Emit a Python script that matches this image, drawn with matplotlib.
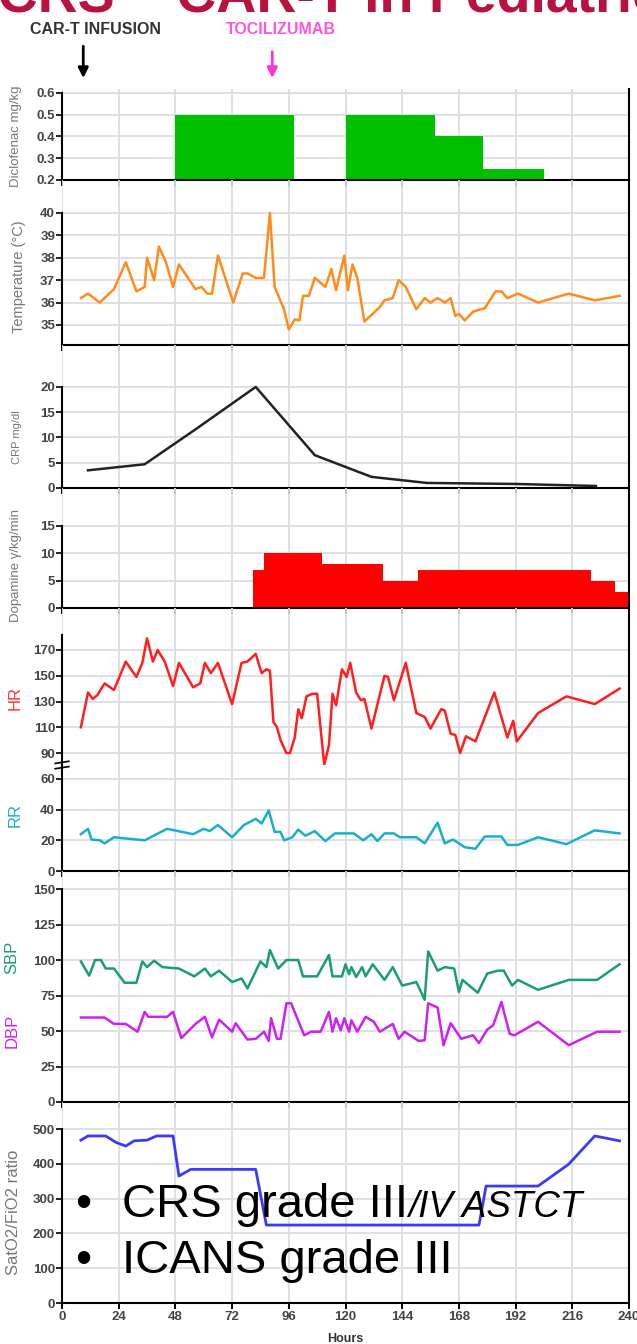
import numpy as np
import matplotlib.pyplot as plt

plt.rcParams['font.family'] = ['Liberation Sans', 'DejaVu Sans']

# events (hours)
car_t_hour = 9
toci_hour = 89

# diclofenac infusion steps
dic_start = [48, 120, 158, 178]
dic_end = [98, 158, 178, 204]
dic_dose = [0.5, 0.5, 0.4, 0.25]

# temperature
temp_h = [8, 11, 16, 22, 27, 31.5, 35, 36, 39, 41, 44, 47, 49.5, 56.5, 59, 61.5, 63.5, 66, 72.5, 76.5,
          78.5, 82, 85.5, 88, 90, 94, 96, 98.5, 100.5, 102, 104.5, 107, 111.5, 114, 116, 119.5, 121, 123, 125, 128,
          131, 134.5, 136.5, 140, 142.5, 145.5, 150, 153.5, 156, 159, 162, 164.5, 166.5, 168, 170.5, 174, 179, 183.5,
          186, 188.5, 193, 201.5, 214.5, 225.5, 236]
temp_c = [36.2, 36.4, 36.0, 36.6, 37.8, 36.5, 36.7, 38.0, 37.0, 38.5, 37.8, 36.7, 37.7, 36.6, 36.7, 36.4, 36.4, 38.1, 36.0, 37.3,
          37.3, 37.1, 37.1, 40.0, 36.7, 35.7, 34.8, 35.25, 35.2, 36.3, 36.3, 37.1, 36.7, 37.5, 36.55, 38.1, 36.55, 37.7, 37.1, 35.15,
          35.45, 35.8, 36.1, 36.2, 37.0, 36.7, 35.7, 36.2, 36.0, 36.2, 36.0, 36.2, 35.4, 35.5, 35.2, 35.6, 35.75, 36.5,
          36.5, 36.2, 36.4, 36.0, 36.4, 36.1, 36.3]

# CRP
crp_h = [11, 35, 56.5, 82, 107, 131, 154.5, 192, 226]
crp_val = [3.5, 4.7, 11.6, 20, 6.5, 2.2, 1.0, 0.8, 0.4]

# dopamine steps
dop_start = [81, 85.5, 110, 136, 150.5, 224, 234]
dop_end = [85.5, 110, 136, 150.5, 224, 234, 240]
dop_dose = [7, 10, 8, 5, 7, 5, 3]

# heart rate
hr_h = [8, 11, 13, 15, 18, 22, 27, 31.5, 34, 36, 38.5, 40.5, 43.5, 47, 49.5, 55.5, 58.5, 60.5, 63, 66,
        72, 76, 78.5, 82, 84.5, 86.5, 88, 89.5, 91, 92.5, 95, 96.5, 98.5, 100, 101.5, 103.5, 106, 108, 111, 113,
        114.5, 116, 118.5, 120.5, 122, 124.5, 126.5, 128, 131, 136.5, 138, 140.5, 145.5, 150, 153.5, 156, 160.5, 162,
        164.5, 166.5, 168.5, 171, 175, 183, 188.5, 191, 192.5, 201.5, 213.5, 225.5, 236]
hr_val = [110, 137, 132, 135, 144, 139, 161, 149, 160, 179, 161, 170, 161, 142, 160, 141, 144, 160, 152, 160,
          128, 160, 161, 167, 152, 155, 154, 114, 110, 100, 90, 90, 102, 124, 117, 134, 136, 136, 81, 96,
          136, 127, 155, 149, 160, 137, 131, 132, 109, 150, 149, 131, 160, 121, 118, 109, 124, 123,
          105, 104, 90, 103, 99, 137, 102, 115, 99, 121, 134, 128, 140]

# respiratory rate
rr_h = [8, 11, 12.5, 16, 18, 22, 35, 44.5, 55.5, 60, 62.5, 66, 72, 77, 82, 84.5, 87.5, 90, 92.5, 94,
        97.5, 100, 103, 107, 111.5, 115.5, 123.5, 127.5, 131, 133.5, 136.5, 140.5, 143, 150, 153.5, 159, 162,
        165.5, 170.5, 175, 179, 186, 188.5, 193, 201.5, 213.5, 225.5, 236]
rr_val = [24, 27.5, 20.5, 20, 18, 22, 20, 27.5, 24, 27.5, 26, 30, 22, 30, 34, 31, 39.5, 25.5, 25.5, 20,
          22, 27, 23, 26, 19.5, 24.5, 24.5, 20, 24, 19.5, 24.5, 24.5, 22, 22, 18, 31.5, 18,
          20.5, 15.5, 14.5, 22.5, 22.5, 17, 17, 22, 17.5, 26.5, 24.5]

# blood pressure
sbp_h = [8, 11.5, 14, 16.5, 18.5, 22, 26.5, 31.5, 34, 36, 39, 42.5, 49.5, 56, 60.5, 63, 66.5, 72, 76, 78.5,
         84, 86.5, 88, 91.5, 95, 100, 102, 108, 113, 114.5, 118.5, 120, 121.5, 122.5, 124.5, 127, 128.5, 131.5,
         136.5, 140, 144, 150, 153.5, 155, 159, 162, 166, 168, 169.5, 176, 180, 184.5, 187, 190.5, 193, 201.5,
         214.5, 226.5, 236]
sbp_val = [99, 89, 100, 100, 94, 94, 84, 84, 99, 95, 99.5, 95, 94, 88.5, 94, 88.5, 92.5, 84.5, 87, 80,
           99, 95, 107, 94, 100, 100, 88.5, 88.5, 103.5, 88.5, 88.5, 97, 90, 95, 88, 95, 88.5, 97,
           86, 95, 82, 84.5, 72, 106, 92.5, 95, 94, 77.5, 86, 77, 90.5, 92.5, 92.5, 82, 86, 79,
           86, 86, 97]
dbp_h = [8, 18, 22, 27, 32, 35, 36.5, 44.5, 47, 50.5, 56.5, 60.5, 63.5, 66.5, 72, 73.5, 78.5, 82, 85.5, 87.5,
         88.5, 91, 92.5, 95, 97, 102.5, 105.5, 109.5, 113, 114.5, 116, 118, 119.5, 121.5, 122.5, 125, 128.5, 132,
         134.5, 140, 142.5, 145, 151, 153.5, 155, 159, 161.5, 164.5, 169, 174, 176.5, 180, 182.5, 186, 189.5,
         191.5, 201.5, 214.5, 226.5, 236]
dbp_val = [59.5, 59.5, 55, 55, 49.5, 63.5, 60, 60, 63.5, 45, 55, 60, 45.5, 58, 49.5, 55.5, 44, 44.5, 49.5, 43,
           59, 44.5, 44.5, 69.5, 69.5, 47, 49.5, 49.5, 63.5, 49.5, 59, 50.5, 59, 49.5, 57.5, 49.5, 60, 56.5,
           49.5, 55, 44.5, 49.5, 43, 43.5, 69.5, 66.5, 40, 55.5, 44.5, 47, 41.5, 51, 54, 70.5, 48,
           47, 56.5, 40, 49.5, 49.5]

# SatO2/FiO2
sat_h = [8, 11, 18.5, 23, 27, 30.5, 36, 40, 47, 49.5, 54.5, 82, 86.5, 176.5, 179.5, 201.5, 214.5, 225.5, 236]
sat_val = [468, 480, 480, 461, 451, 466, 468, 480, 480, 365, 384, 384, 224, 224, 336, 336, 399, 480, 466]

hours_ticks = np.arange(0, 241, 24)

W, H = 637, 1344
fig = plt.figure(figsize=(W / 100, H / 100), dpi=100)
X0, X1 = 62, 629
grid_c = '#dcdce4'
tick_c = '#444444'


def panel(top, bottom, ylim, yticks, spine_lo=None, spine_hi=None):
    ax = fig.add_axes([X0 / W, 1 - bottom / H, (X1 - X0) / W, (bottom - top) / H])
    ax.set_xlim(0, 240)
    ax.set_ylim(*ylim)
    ax.set_xticks(hours_ticks)
    ax.set_yticks(yticks)
    ax.tick_params(axis='x', direction='out', length=4, width=1.4, labelbottom=False)
    ax.tick_params(axis='y', direction='out', length=4, width=1.2, labelsize=9.5,
                   labelcolor=tick_c, pad=1)
    plt.setp(ax.get_yticklabels(), fontweight='bold')
    ax.spines['top'].set_visible(False)
    for s in ['left', 'bottom', 'right']:
        ax.spines[s].set_linewidth(1.5)
    ax.spines['left'].set_bounds(spine_lo if spine_lo is not None else ylim[0],
                                 spine_hi if spine_hi is not None else ylim[1])
    ax.grid(True, color=grid_c, lw=1.3)
    ax.set_axisbelow(True)
    ax.patch.set_alpha(0)
    return ax


def ylab(x, y, s, color='#777777', size=8):
    fig.text(x / W, 1 - y / H, s, rotation=90, ha='center', va='center', color=color, fontsize=size)


# diclofenac
ax1 = panel(89, 180, (0.2, 0.618), [0.2, 0.3, 0.4, 0.5, 0.6], spine_hi=0.6)
ax1.set_yticklabels(['0.2', '0.3', '0.4', '0.5', '0.6'], fontweight='bold')
ax1.bar(dic_start, np.array(dic_dose) - 0.2, width=np.array(dic_end) - np.array(dic_start),
        bottom=0.2, align='edge', color='#00C000', lw=0)
ylab(16, 136, 'Diclofenac mg/kg', size=9.5)

ax1.annotate('', xy=(car_t_hour, 1.12), xytext=(car_t_hour, 1.47), xycoords=('data', 'axes fraction'),
             arrowprops=dict(arrowstyle='-|>', color='black', lw=2, mutation_scale=15,
                             shrinkA=0, shrinkB=0))
ax1.annotate('', xy=(toci_hour, 1.12), xytext=(toci_hour, 1.41), xycoords=('data', 'axes fraction'),
             arrowprops=dict(arrowstyle='-|>', color='#FF33D6', lw=2, mutation_scale=15,
                             shrinkA=0, shrinkB=0))
fig.text(96 / W, 1 - 30 / H, 'CAR-T INFUSION', ha='center', va='center', fontsize=11.5,
         fontweight='bold', color='#333333')
fig.text(281 / W, 1 - 30 / H, 'TOCILIZUMAB', ha='center', va='center', fontsize=11.5,
         fontweight='bold', color='#FF55DD')
fig.text(-24 / W, 1 - 11 / H, 'rCRS \u2013 CAR-T in Pediatric', ha='left', va='baseline',
         fontsize=40, fontweight='bold', color='#B8123F')

# temperature
ax2 = panel(180, 345, (34.107, 41.47), [35, 36, 37, 38, 39, 40], spine_hi=40)
ax2.plot(temp_h, temp_c, color='#FF8C1A', lw=1.8)
ylab(19, 277, 'Temperature (\u00b0C)', size=10.5)

# CRP
ax3 = panel(345, 488, (0, 28.3), [0, 5, 10, 15, 20], spine_hi=20)
ax3.plot(crp_h, crp_val, color='#222222', lw=1.8)
ylab(17, 437, 'CRP mg/dl', size=8)

# dopamine
ax4 = panel(488, 608, (0, 21.95), [0, 5, 10, 15], spine_hi=15)
ax4.bar(dop_start, dop_dose, width=np.array(dop_end) - np.array(dop_start), align='edge',
        color='#FF0000', lw=0)
ylab(16, 566, 'Dopamine \u03b3/kg/min', size=9.5)

# HR (upper part of broken axis)
ax5 = panel(608, 765, (80.7, 202.6), [90, 110, 130, 150, 170], spine_hi=182)
ax5.spines['bottom'].set_visible(False)
ax5.tick_params(axis='x', length=0)
ax5.plot(hr_h, hr_val, color='#FF1F1F', lw=1.8)
ylab(15, 698, 'HR', color='#FF3333', size=12)

# RR (lower part)
ax6 = panel(765, 871, (0, 69.1), [0, 20, 40, 60])
ax6.plot(rr_h, rr_val, color='#1AAFC8', lw=1.8)
ylab(15, 815, 'RR', color='#1AAFC8', size=12)
# axis break mark
for dy in (-0.025, 0.025):
    ax6.plot([-0.012, 0.012], [1 + dy - 0.01, 1 + dy + 0.01], transform=ax6.transAxes,
             color='black', lw=1.2, clip_on=False)

# blood pressure
ax7 = panel(871, 1102, (0, 162.7), [0, 25, 50, 75, 100, 125, 150], spine_hi=150)
ax7.plot(sbp_h, sbp_val, color='#1A9E6E', lw=1.8)
ax7.plot(dbp_h, dbp_val, color='#CC22EE', lw=1.8)
ylab(12, 957, 'SBP', color='#1A9E6E', size=12)
ylab(12, 1031, 'DBP', color='#CC22EE', size=12)

# SatO2/FiO2
ax8 = panel(1102, 1303, (0, 577.6), [0, 100, 200, 300, 400, 500], spine_hi=500)
ax8.plot(sat_h, sat_val, color='#3A3AFF', lw=2)
ylab(14, 1212, 'SatO2/FiO2 ratio', size=12)
ax8.tick_params(axis='x', labelbottom=True, labelsize=9.5, labelcolor=tick_c, pad=2)
plt.setp(ax8.get_xticklabels(), fontweight='bold')
ax8.set_xlabel('Hours', fontsize=9, fontweight='bold', color='#333333')
ax8.xaxis.set_label_coords(0.5, -0.15)

# overlay bullets
fig.text(83 / W, 1 - 1217 / H, '\u2022', fontsize=33, ha='center', va='baseline')
fig.text(83 / W, 1 - 1273 / H, '\u2022', fontsize=33, ha='center', va='baseline')
t1 = fig.text(122 / W, 1 - 1217 / H, 'CRS grade III', fontsize=34, ha='left', va='baseline')
fig.text(122 / W, 1 - 1273 / H, 'ICANS grade III', fontsize=34, ha='left', va='baseline')
fig.canvas.draw()
bb = t1.get_window_extent()
fig.text(bb.x1 / W, 1 - 1217 / H, '/IV ASTCT', fontsize=26.5, style='italic', ha='left', va='baseline')

fig.savefig('out.png', dpi=100)
